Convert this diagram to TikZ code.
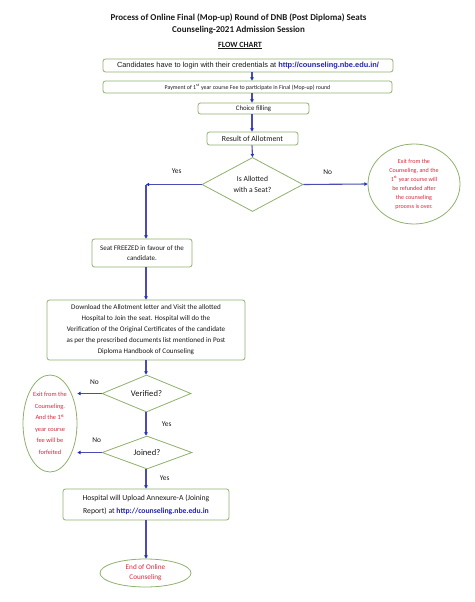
\documentclass[tikz,border=0pt]{standalone}
\usepackage{fontspec}
\setmainfont{Carlito}
\newfontfamily\arialfont{Liberation Sans}
\usepackage{tikz}
\usetikzlibrary{positioning,arrows.meta,shapes.geometric,calc}
\definecolor{edge}{HTML}{8FB16C}
\definecolor{flow}{HTML}{4B4BB4}
\definecolor{tip}{HTML}{1F2FC8}
\definecolor{exitred}{HTML}{D8283C}
\definecolor{link}{HTML}{2323B8}
\definecolor{ink}{HTML}{1A1A1A}

\begin{document}
\begin{tikzpicture}[x=1pt,y=-1pt,
  box/.style={draw=edge,line width=0.8pt,rounded corners=2.5pt,align=center,fill=white,inner sep=1pt,text=ink},
  dec/.style={diamond,draw=edge,line width=0.8pt,align=center,inner sep=0pt,fill=white,text=ink},
  exitnode/.style={ellipse,draw=edge,line width=0.8pt,align=center,inner sep=0pt,text=exitred},
  arr/.style={-{Triangle[length=3.2pt,width=3.4pt,color=tip]},line width=1.1pt,draw=flow},
  lbl/.style={font=\fontsize{7.4}{8}\selectfont,text=ink}]
  \useasboundingbox (0,0) rectangle (474,602);

  % heading
  \node[font=\bfseries\fontsize{9}{12}\selectfont,align=center,text=ink] (title) at (238.5,24)
    {Process of Online Final (Mop-up) Round of DNB (Post Diploma) Seats\\Counseling-2021 Admission Session};
  \node[font=\bfseries\fontsize{8}{9}\selectfont,text=ink] (flowchart) at (240,45.5) {\underline{FLOW CHART}};

  % main column
  \node[box,minimum width=290pt,minimum height=13pt,font=\arialfont\fontsize{7.4}{8}\selectfont] (login) at (248,65.5)
    {Candidates have to login with their credentials at \textbf{\color{link}http://counseling.nbe.edu.in/}};
  \node[box,minimum width=289pt,minimum height=12pt,font=\fontsize{5.9}{7}\selectfont] (pay) at (247.5,87)
    {Payment of 1\textsuperscript{st} year course Fee to participate in Final (Mop-up) round};
  \node[box,minimum width=111pt,minimum height=11pt,font=\fontsize{6.8}{7}\selectfont] (choice) at (253.5,108.5) {Choice filling};
  \node[box,minimum width=91pt,minimum height=13pt,font=\fontsize{7.8}{9}\selectfont] (result) at (252.5,138.5) {Result of Allotment};
  \node[dec,minimum width=101pt,minimum height=45pt,font=\fontsize{7.6}{11}\selectfont] (allot) at (252.5,184.5) {Is Allotted\\with a Seat?};
  \node[exitnode,minimum width=92pt,minimum height=80pt,font=\fontsize{6.1}{9}\selectfont] (exitrefund) at (414,184)
    {Exit from the\\Counseling, and the\\1\textsuperscript{st} year course will\\be refunded after\\the counseling\\process is over.};

  % after allotment
  \node[box,minimum width=100pt,minimum height=28pt,font=\fontsize{7}{9.5}\selectfont] (seat) at (142,253)
    {Seat FREEZED in favour of the\\candidate.};
  \node[box,minimum width=198pt,minimum height=60pt,font=\fontsize{7.1}{11}\selectfont] (download) at (146,330)
    {Download the Allotment letter and Visit the allotted\\Hospital to Join the seat. Hospital will do the\\Verification of the Original Certificates of the candidate\\as per the prescribed documents list mentioned in Post\\Diploma Handbook of Counseling};
  \node[dec,minimum width=89pt,minimum height=31pt,font=\fontsize{8.6}{9}\selectfont] (verified) at (146.5,393.5) {Verified?};
  \node[dec,minimum width=90pt,minimum height=33pt,font=\fontsize{8.6}{9}\selectfont] (joined) at (147,452.5) {Joined?};
  \node[exitnode,minimum width=54pt,minimum height=97pt,font=\fontsize{6.4}{11.5}\selectfont] (exitforfeit) at (50,423.5)
    {Exit from the\\Counseling.\\And the 1\textsuperscript{st}\\year course\\fee will be\\forfeited};
  \node[box,minimum width=166pt,minimum height=31pt,font=\fontsize{7.7}{13}\selectfont] (hospital) at (146,504.5)
    {Hospital will Upload Annexure-A (Joining\\Report) at \textbf{\color{link}http://counseling.nbe.edu.in}};
  \node[exitnode,minimum width=91pt,minimum height=28pt,font=\fontsize{7.2}{10}\selectfont] (finish) at (145.5,573)
    {End of Online\\Counseling};

  % connectors
  \coordinate (topcol) at (252,0);
  \coordinate (lowcol) at (146,0);
  \coordinate (yesturn) at (146,184.5);
  \draw[arr] (login.south -| topcol) -- (pay.north -| topcol);
  \draw[arr] (pay.south -| topcol) -- (choice.north -| topcol);
  \draw[arr] (choice.south -| topcol) -- (result.north -| topcol);
  \draw[arr] (result.south -| topcol) -- (allot.north);
  \draw[arr] (allot.west) -- node[lbl,above=7pt,pos=0.45]{Yes} (yesturn);
  \draw[arr] (yesturn) -- (seat.north -| yesturn);
  \draw[arr] (allot.east) -- node[lbl,above=6pt,pos=0.38]{No} (exitrefund.west);
  \draw[arr] (seat.south -| lowcol) -- (download.north -| lowcol);
  \draw[arr] (download.south -| lowcol) -- (verified.north -| lowcol);
  \draw[arr] (verified.west) -- node[lbl,above=5pt,pos=0.3]{No} (verified.west -| exitforfeit.east);
  \draw[arr] (verified.south -| lowcol) -- node[lbl,right=12pt]{Yes} (joined.north -| lowcol);
  \draw[arr] (joined.west) -- node[lbl,above=6pt,pos=0.2]{No} (joined.west -| exitforfeit.east);
  \draw[arr] (joined.south -| lowcol) -- node[lbl,right=10pt,pos=0.45]{Yes} (hospital.north -| lowcol);
  \draw[arr] (hospital.south -| lowcol) -- (finish.north -| lowcol);
\end{tikzpicture}
\end{document}
